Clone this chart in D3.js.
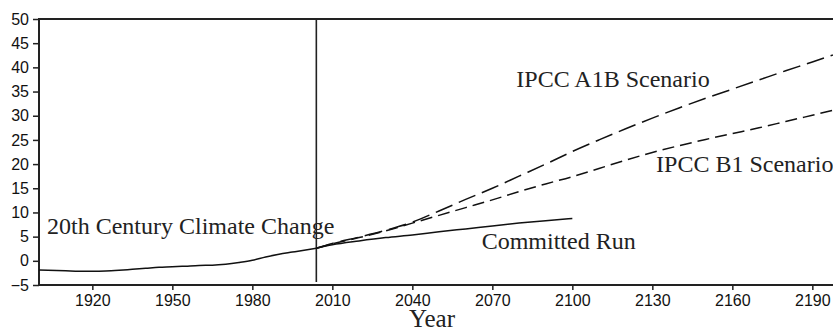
<!DOCTYPE html>
<html>
<head>
<meta charset="utf-8">
<script src="https://cdn.jsdelivr.net/npm/d3@7"></script>
<style>
  html, body { margin: 0; padding: 0; background: #fff; }
  svg { display: block; }
</style>
</head>
<body>
<svg id="chart" width="833" height="329"></svg>
<script>
// Global temperature change runs: 20th century, committed, and two IPCC scenarios
const histYears = [1900, 1910, 1915, 1920, 1925, 1930, 1935, 1940, 1945, 1950, 1955, 1960, 1965, 1970, 1975, 1980, 1985, 1990, 1995, 2000, 2004];
const histValues = [-1.9, -2.05, -2.15, -2.15, -2.1, -1.95, -1.75, -1.55, -1.35, -1.25, -1.1, -0.95, -0.9, -0.7, -0.35, 0.1, 0.8, 1.35, 1.8, 2.25, 2.6];

const committedYears = [2004, 2010, 2020, 2030, 2040, 2050, 2060, 2070, 2080, 2090, 2100];
const committedValues = [2.6, 3.3, 4.1, 4.8, 5.35, 6.0, 6.6, 7.2, 7.8, 8.3, 8.75];

const scenarioYears = [2004, 2010, 2020, 2030, 2040, 2050, 2060, 2070, 2080, 2090, 2100, 2110, 2120, 2130, 2140, 2150, 2160, 2170, 2180, 2190, 2200];
const a1bValues = [2.6, 3.6, 4.9, 6.3, 8.0, 10.3, 12.7, 15.0, 17.5, 20.0, 22.6, 25.0, 27.3, 29.5, 31.6, 33.6, 35.5, 37.4, 39.3, 41.1, 43.0];
const b1Values = [2.6, 3.5, 4.8, 6.2, 7.8, 9.4, 11.0, 12.6, 14.3, 15.9, 17.4, 19.1, 20.8, 22.4, 23.8, 25.1, 26.3, 27.5, 28.8, 30.1, 31.4];

const splitYear = 2004;

const xTicks = [1920, 1950, 1980, 2010, 2040, 2070, 2100, 2130, 2160, 2190];
const yTicks = [-5, 0, 5, 10, 15, 20, 25, 30, 35, 40, 45, 50];

const labels = [
  { text: "20th Century Climate Change", year: 1903, value: 5.6 },
  { text: "Committed Run", year: 2066, value: 2.5 },
  { text: "IPCC A1B Scenario", year: 2079, value: 36.0 },
  { text: "IPCC B1 Scenario", year: 2131.4, value: 18.4 }
];

const svg = d3.select("#chart");
const plotLeft = 39, plotRight = 839, plotTop = 19, plotBottom = 285;

const x = d3.scaleLinear().domain([1900, 2200]).range([plotLeft, plotRight]);
const y = d3.scaleLinear().domain([-5, 50]).range([plotBottom, plotTop]);

const axisColor = "#222";
const sans = "'Liberation Sans', Arial, sans-serif";
const serif = "'Liberation Serif', 'Times New Roman', serif";

// Frame
svg.append("rect")
  .attr("x", plotLeft).attr("y", plotTop)
  .attr("width", plotRight - plotLeft).attr("height", plotBottom - plotTop)
  .attr("fill", "none").attr("stroke", axisColor).attr("stroke-width", 2);

// Y axis
const yAxis = svg.append("g")
  .attr("transform", `translate(${plotLeft},0)`)
  .call(d3.axisLeft(y).tickValues(yTicks).tickSize(6).tickPadding(4).tickSizeOuter(0));
yAxis.select(".domain").remove();

// X axis
const xAxis = svg.append("g")
  .attr("transform", `translate(0,${plotBottom})`)
  .call(d3.axisBottom(x).tickValues(xTicks).tickFormat(d3.format("d")).tickSize(5).tickPadding(5).tickSizeOuter(0));
xAxis.select(".domain").remove();

[yAxis, xAxis].forEach(g => {
  g.selectAll("line").attr("stroke", axisColor).attr("stroke-width", 1.5);
  g.selectAll("text").attr("fill", "#111").style("font-family", sans).style("font-size", "16px");
});

// Divider between historical and future runs
svg.append("line")
  .attr("x1", x(splitYear)).attr("x2", x(splitYear))
  .attr("y1", plotTop).attr("y2", plotBottom - 3)
  .attr("stroke", "#222").attr("stroke-width", 1.6);

const line = d3.line().curve(d3.curveMonotoneX);

function drawSeries(years, values, dash) {
  svg.append("path")
    .attr("d", line(years.map((yr, i) => [x(yr), y(values[i])])))
    .attr("fill", "none")
    .attr("stroke", "#111")
    .attr("stroke-width", 1.5)
    .attr("stroke-dasharray", dash);
}

drawSeries(histYears, histValues, null);
drawSeries(committedYears, committedValues, null);
drawSeries(scenarioYears, a1bValues, "18,7");
drawSeries(scenarioYears, b1Values, "12,6");

// Run labels
svg.selectAll("text.runlabel")
  .data(labels)
  .enter().append("text")
  .attr("class", "runlabel")
  .attr("x", d => x(d.year))
  .attr("y", d => y(d.value))
  .attr("fill", "#222")
  .style("font-family", serif)
  .style("font-size", "24px")
  .text(d => d.text);

// Axis title
svg.append("text")
  .attr("x", 432).attr("y", 327)
  .attr("text-anchor", "middle")
  .attr("fill", "#222")
  .style("font-family", serif)
  .style("font-size", "25px")
  .text("Year");
</script>
</body>
</html>
